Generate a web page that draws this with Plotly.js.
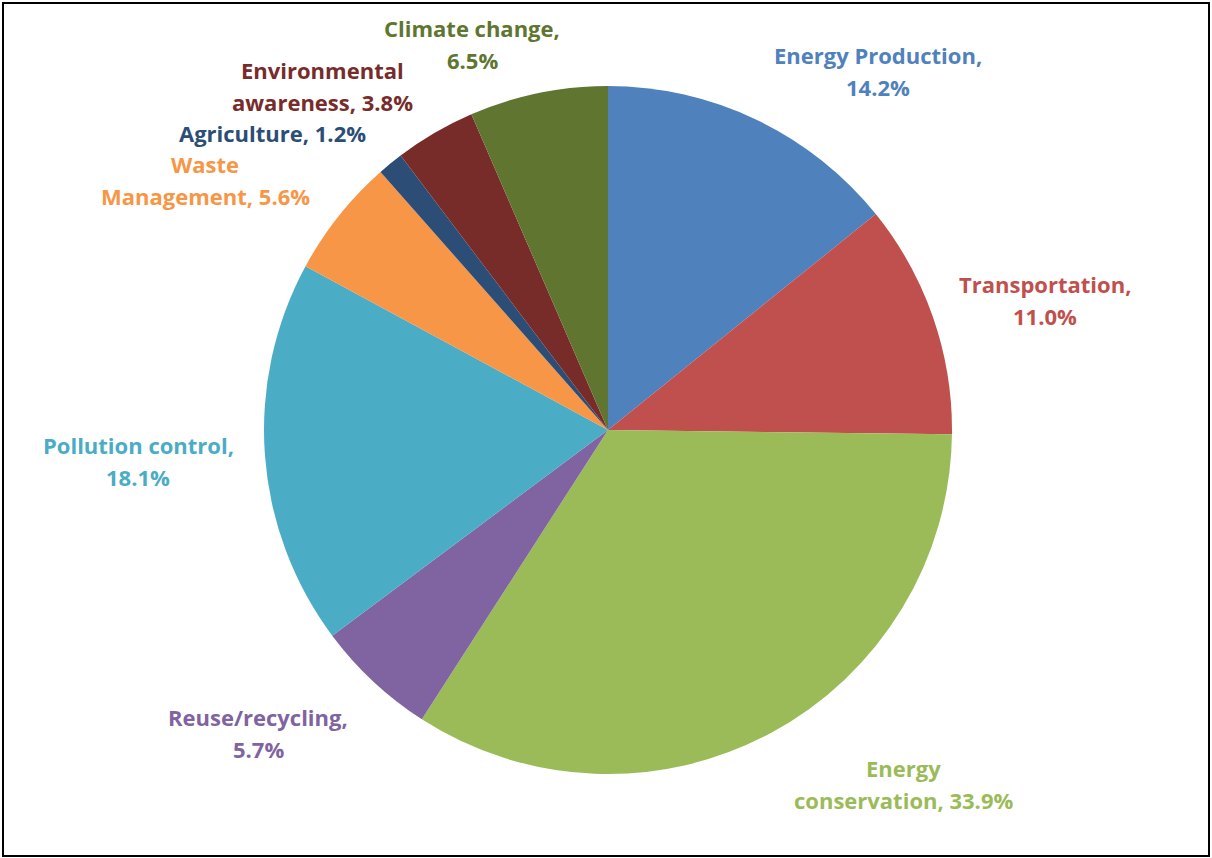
<!DOCTYPE html>
<html>
<head>
<meta charset="utf-8">
<script src="https://cdn.plot.ly/plotly-3.0.1.min.js"></script>
<style>
  html, body { margin: 0; padding: 0; background: #fff; }
  #wrap { position: relative; width: 1212px; height: 858px; }
  #chart { position: absolute; left: 0; top: 0; width: 1212px; height: 858px; }
  #frame { position: absolute; left: 2px; top: 2px; width: 1204px; height: 851px; border: 2.5px solid #000; pointer-events: none; }
</style>
</head>
<body>
<div id="wrap">
  <div id="chart"></div>
  <div id="frame"></div>
</div>
<script>
// ---- data ----
const categories = [
  'Energy Production', 'Transportation', 'Energy conservation', 'Reuse/recycling',
  'Pollution control', 'Waste Management', 'Agriculture', 'Environmental awareness', 'Climate change'
];
const shares = [14.2, 11.0, 33.9, 5.7, 18.1, 5.6, 1.2, 3.8, 6.5];
const colors = ['#4F81BD', '#C0504D', '#9BBB59', '#8064A2', '#4BACC6', '#F79646', '#2C4D75', '#772C2A', '#5F7530'];

// ---- label layout (how each label wraps, and where its centre sits, in px) ----
const wrapMode = ['comma', 'comma', 'first', 'comma', 'comma', 'first', 'none', 'first', 'comma'];
const labelPos = [
  [878, 71], [1045, 300], [903, 784], [258, 733], [138, 461],
  [205, 180], [272, 133], [322, 86], [472, 44]
];

const W = 1212, H = 858;
const cx = 608, cy = 430, R = 344;

function lines(i) {
  const full = categories[i] + ', ' + shares[i].toFixed(1) + '%';
  if (wrapMode[i] === 'comma') {
    return [categories[i] + ',', shares[i].toFixed(1) + '%'];
  } else if (wrapMode[i] === 'first') {
    const sp = full.indexOf(' ');
    return [full.slice(0, sp), full.slice(sp + 1)];
  }
  return [full];
}

const annotations = [];
const lineGap = 32;
categories.forEach((c, i) => {
  const ls = lines(i);
  const [px, py] = labelPos[i];
  const y0 = py - (ls.length - 1) * lineGap / 2;
  ls.forEach((t, k) => {
    annotations.push({
      xref: 'paper', yref: 'paper',
      x: px / W, y: 1 - (y0 + k * lineGap) / H,
      xanchor: 'center', yanchor: 'middle',
      text: t, showarrow: false,
      font: { family: '"Open Sans", Lato, sans-serif', size: 22, color: colors[i], weight: 'bold' }
    });
  });
});

const trace = {
  type: 'pie',
  labels: categories,
  values: shares,
  sort: false,
  direction: 'clockwise',
  rotation: 0,
  marker: { colors: colors, line: { width: 0 } },
  textinfo: 'none',
  hoverinfo: 'label+percent',
  showlegend: false,
  domain: {
    x: [(cx - R) / W, (cx + R) / W],
    y: [1 - (cy + R) / H, 1 - (cy - R) / H]
  }
};

const layout = {
  width: W, height: H,
  margin: { l: 0, r: 0, t: 0, b: 0 },
  paper_bgcolor: '#fff',
  plot_bgcolor: '#fff',
  showlegend: false,
  annotations: annotations
};

Plotly.newPlot('chart', [trace], layout, { displayModeBar: false, staticPlot: true });
</script>
</body>
</html>
